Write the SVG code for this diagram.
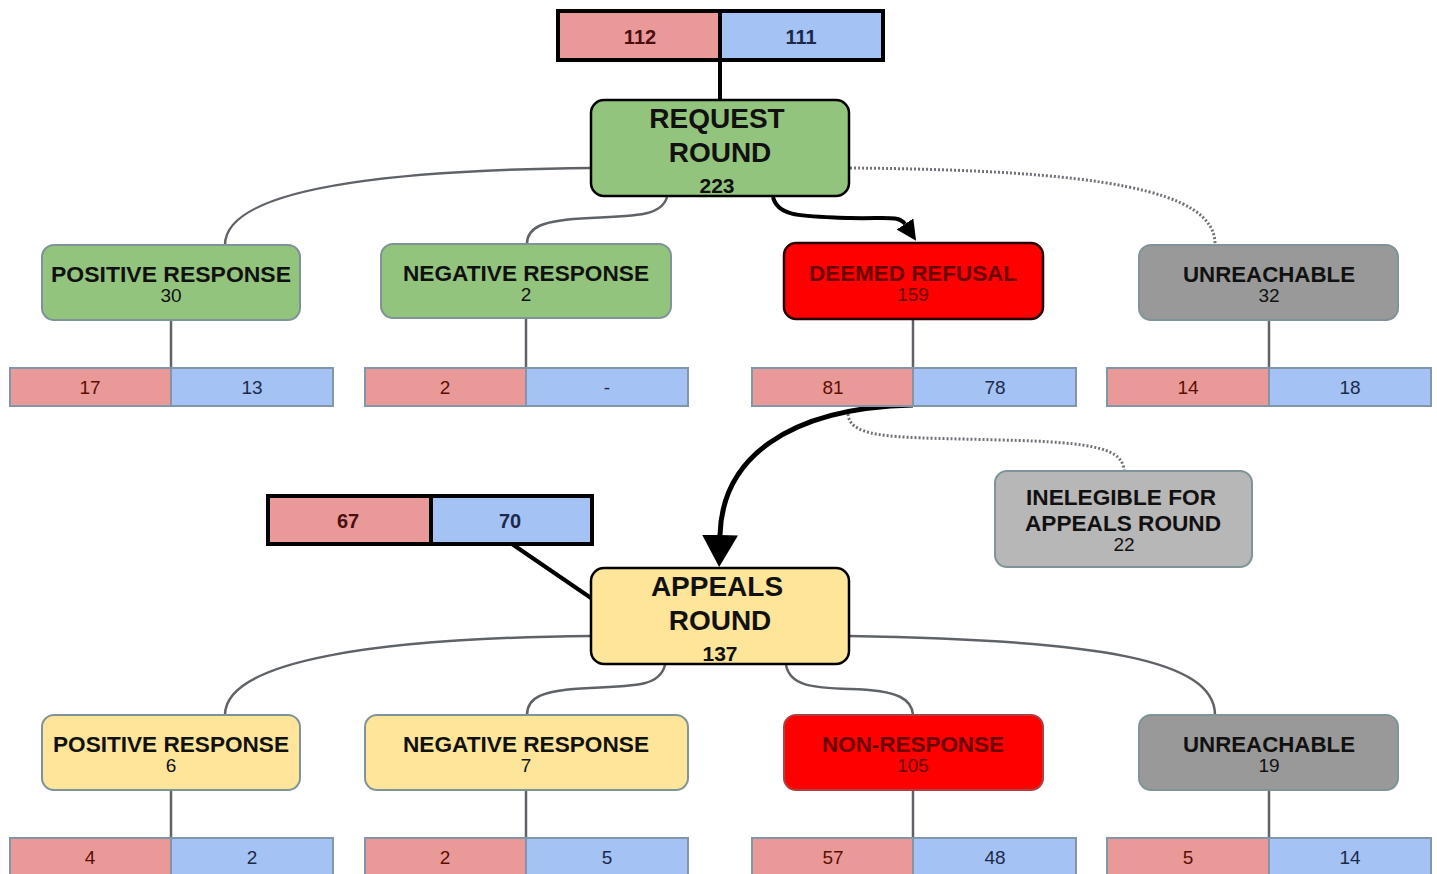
<svg xmlns="http://www.w3.org/2000/svg" width="1437" height="874" viewBox="0 0 1437 874">
<defs>
<style>
.t{font-family:"Liberation Sans",Arial,sans-serif;text-anchor:middle}
.big{font-size:28px;font-weight:bold;fill:#111}
.bnum{font-size:21px;font-weight:bold;fill:#111}
.ttl{font-size:22px;font-weight:bold;fill:#111}
.num{font-size:19px;fill:#111}
.red .ttl,.red .num{fill:#6b0000}
.pk{fill:#ea9999}
.bl{fill:#a4c2f4}
.bar{fill:none;stroke:#8196a8;stroke-width:2}
.barb{fill:none;stroke:#000;stroke-width:4}
.vp{font-size:19px;fill:#5b0f00}
.vb{font-size:19px;fill:#1c2a4a}
.vpb{font-size:20px;font-weight:bold;fill:#4a1010}
.vbb{font-size:20px;font-weight:bold;fill:#1c2a4a}
.nd{stroke:#7f9499;stroke-width:2}
.main{stroke:#000;stroke-width:2.5}
.green{fill:#93c47d}
.yellow{fill:#ffe599}
.gray{fill:#999999}
.lgray{fill:#b7b7b7}
.rfill{fill:#ff0000}
.c{fill:none;stroke:#5f6368;stroke-width:2.5}
.dot{fill:none;stroke:#6f7378;stroke-width:3;stroke-dasharray:2 2}
.thick{fill:none;stroke:#000;stroke-width:4}
</style>
<marker id="ahS" viewBox="0 -10 20 20" refX="0" refY="0" markerWidth="20" markerHeight="20" markerUnits="userSpaceOnUse" orient="auto"><path d="M0,-10 L20,0 L0,10 z" fill="#000"/></marker>
<marker id="ahB" viewBox="0 -18 32 36" refX="0" refY="0" markerWidth="32" markerHeight="36" markerUnits="userSpaceOnUse" orient="auto"><path d="M0,-18 L32,0 L0,18 z" fill="#000"/></marker>
</defs>
<rect width="1437" height="874" fill="#fff"/>

<g id="connectors">
<line x1="720" y1="60" x2="720" y2="100" class="thick"/>
<path class="c" d="M591,168 C 380,170 225,190 225,245"/>
<path class="c" d="M667,197 C 662,215 640,216 590,218 C 540,220 527,228 527,244"/>
<path class="thick" d="M773,197 C 778,218 805,216 850,218 C 885,219 899,215 905,224" marker-end="url(#ahS)"/>
<path class="dot" d="M850,168 C 1100,170 1215,190 1215,244"/>
<line x1="171" y1="320" x2="171" y2="368" class="c"/>
<line x1="526" y1="318" x2="526" y2="368" class="c"/>
<line x1="913" y1="319" x2="913" y2="368" class="c"/>
<line x1="1269" y1="320" x2="1269" y2="368" class="c"/>
<path class="thick" style="stroke-width:5" d="M913,405 C 785,408 722,460 720,535" marker-end="url(#ahB)"/>
<path class="dot" d="M848,414 C 850,440 900,437 1000,440 C 1100,442 1122,450 1124,470"/>
<line x1="512" y1="544" x2="591" y2="598" class="thick"/>
<path class="c" d="M591,636 C 380,638 225,660 225,715"/>
<path class="c" d="M665,665 C 660,685 640,686 590,688 C 540,690 527,698 527,715"/>
<path class="c" d="M786,665 C 790,685 810,688 850,689 C 900,690 912,700 913,715"/>
<path class="c" d="M849,636 C 1100,640 1215,660 1215,715"/>
<line x1="171" y1="790" x2="171" y2="838" class="c"/>
<line x1="526" y1="790" x2="526" y2="838" class="c"/>
<line x1="913" y1="790" x2="913" y2="838" class="c"/>
<line x1="1269" y1="790" x2="1269" y2="838" class="c"/>
</g>

<g id="bar-top">
<rect x="558" y="11" width="162" height="49" class="pk"/>
<rect x="720" y="11" width="163" height="49" class="bl"/>
<rect x="558" y="11" width="325" height="49" class="barb"/>
<line x1="720" y1="11" x2="720" y2="60" stroke="#000" stroke-width="4"/>
<text x="640" y="44" class="t vpb">112</text>
<text x="801" y="44" class="t vbb">111</text>
</g>

<g id="request-round">
<rect x="591" y="100" width="258" height="96" rx="13" class="green main"/>
<text x="717" y="128" class="t big">REQUEST</text>
<text x="720" y="162" class="t big">ROUND</text>
<text x="717" y="193" class="t bnum">223</text>
</g>

<g id="r-positive">
<rect x="42" y="245" width="258" height="75" rx="12" class="green nd"/>
<text x="171" y="282" class="t ttl" textLength="240" lengthAdjust="spacingAndGlyphs">POSITIVE  RESPONSE</text>
<text x="171" y="302" class="t num">30</text>
</g>
<g id="r-negative">
<rect x="381" y="244" width="290" height="74" rx="12" class="green nd"/>
<text x="526" y="281" class="t ttl" textLength="246" lengthAdjust="spacingAndGlyphs">NEGATIVE RESPONSE</text>
<text x="526" y="301" class="t num">2</text>
</g>
<g id="r-deemed" class="red">
<rect x="784" y="243" width="259" height="76" rx="12" class="rfill" stroke="#2a0000" stroke-width="2.5"/>
<text x="913" y="281" class="t ttl" textLength="208" lengthAdjust="spacingAndGlyphs">DEEMED REFUSAL</text>
<text x="913" y="301" class="t num">159</text>
</g>
<g id="r-unreachable">
<rect x="1139" y="245" width="259" height="75" rx="12" class="gray nd"/>
<text x="1269" y="282" class="t ttl" textLength="172" lengthAdjust="spacingAndGlyphs">UNREACHABLE</text>
<text x="1269" y="302" class="t num">32</text>
</g>

<g id="bar-r-positive">
<rect x="10" y="368" width="161" height="38" class="pk"/>
<rect x="171" y="368" width="162" height="38" class="bl"/>
<rect x="10" y="368" width="323" height="38" class="bar"/>
<line x1="171" y1="368" x2="171" y2="406" stroke="#8196a8" stroke-width="2"/>
<text x="90" y="394" class="t vp">17</text>
<text x="252" y="394" class="t vb">13</text>
</g>
<g id="bar-r-negative">
<rect x="365" y="368" width="161" height="38" class="pk"/>
<rect x="526" y="368" width="162" height="38" class="bl"/>
<rect x="365" y="368" width="323" height="38" class="bar"/>
<line x1="526" y1="368" x2="526" y2="406" stroke="#8196a8" stroke-width="2"/>
<text x="445" y="394" class="t vp">2</text>
<text x="607" y="394" class="t vb">-</text>
</g>
<g id="bar-r-deemed">
<rect x="752" y="368" width="161" height="38" class="pk"/>
<rect x="913" y="368" width="163" height="38" class="bl"/>
<rect x="752" y="368" width="324" height="38" class="bar"/>
<line x1="913" y1="368" x2="913" y2="406" stroke="#8196a8" stroke-width="2"/>
<text x="833" y="394" class="t vp">81</text>
<text x="995" y="394" class="t vb">78</text>
</g>
<g id="bar-r-unreachable">
<rect x="1107" y="368" width="162" height="38" class="pk"/>
<rect x="1269" y="368" width="162" height="38" class="bl"/>
<rect x="1107" y="368" width="324" height="38" class="bar"/>
<line x1="1269" y1="368" x2="1269" y2="406" stroke="#8196a8" stroke-width="2"/>
<text x="1188" y="394" class="t vp">14</text>
<text x="1350" y="394" class="t vb">18</text>
</g>

<g id="inelegible">
<rect x="995" y="471" width="257" height="96" rx="12" class="lgray nd"/>
<text x="1121" y="505" class="t ttl" textLength="190" lengthAdjust="spacingAndGlyphs">INELEGIBLE FOR</text>
<text x="1123" y="531" class="t ttl" textLength="196" lengthAdjust="spacingAndGlyphs">APPEALS ROUND</text>
<text x="1124" y="551" class="t num">22</text>
</g>

<g id="bar-appeals">
<rect x="268" y="496" width="163" height="48" class="pk"/>
<rect x="431" y="496" width="161" height="48" class="bl"/>
<rect x="268" y="496" width="324" height="48" class="barb"/>
<line x1="431" y1="496" x2="431" y2="544" stroke="#000" stroke-width="4"/>
<text x="348" y="528" class="t vpb">67</text>
<text x="510" y="528" class="t vbb">70</text>
</g>

<g id="appeals-round">
<rect x="591" y="568" width="258" height="96" rx="13" class="yellow main"/>
<text x="717" y="596" class="t big">APPEALS</text>
<text x="720" y="630" class="t big">ROUND</text>
<text x="720" y="661" class="t bnum">137</text>
</g>

<g id="a-positive">
<rect x="42" y="715" width="258" height="75" rx="12" class="yellow nd"/>
<text x="171" y="752" class="t ttl" textLength="236" lengthAdjust="spacingAndGlyphs">POSITIVE RESPONSE</text>
<text x="171" y="772" class="t num">6</text>
</g>
<g id="a-negative">
<rect x="365" y="715" width="323" height="75" rx="12" class="yellow nd"/>
<text x="526" y="752" class="t ttl" textLength="246" lengthAdjust="spacingAndGlyphs">NEGATIVE RESPONSE</text>
<text x="526" y="772" class="t num">7</text>
</g>
<g id="a-nonresponse" class="red">
<rect x="784" y="715" width="259" height="75" rx="12" class="rfill" stroke="#b04040" stroke-width="2"/>
<text x="913" y="752" class="t ttl" textLength="182" lengthAdjust="spacingAndGlyphs">NON-RESPONSE</text>
<text x="913" y="772" class="t num">105</text>
</g>
<g id="a-unreachable">
<rect x="1139" y="715" width="259" height="75" rx="12" class="gray nd"/>
<text x="1269" y="752" class="t ttl" textLength="172" lengthAdjust="spacingAndGlyphs">UNREACHABLE</text>
<text x="1269" y="772" class="t num">19</text>
</g>

<g id="bar-a-positive">
<rect x="10" y="838" width="161" height="38" class="pk"/>
<rect x="171" y="838" width="162" height="38" class="bl"/>
<rect x="10" y="838" width="323" height="38" class="bar"/>
<line x1="171" y1="838" x2="171" y2="876" stroke="#8196a8" stroke-width="2"/>
<text x="90" y="864" class="t vp">4</text>
<text x="252" y="864" class="t vb">2</text>
</g>
<g id="bar-a-negative">
<rect x="365" y="838" width="161" height="38" class="pk"/>
<rect x="526" y="838" width="162" height="38" class="bl"/>
<rect x="365" y="838" width="323" height="38" class="bar"/>
<line x1="526" y1="838" x2="526" y2="876" stroke="#8196a8" stroke-width="2"/>
<text x="445" y="864" class="t vp">2</text>
<text x="607" y="864" class="t vb">5</text>
</g>
<g id="bar-a-nonresponse">
<rect x="752" y="838" width="161" height="38" class="pk"/>
<rect x="913" y="838" width="163" height="38" class="bl"/>
<rect x="752" y="838" width="324" height="38" class="bar"/>
<line x1="913" y1="838" x2="913" y2="876" stroke="#8196a8" stroke-width="2"/>
<text x="833" y="864" class="t vp">57</text>
<text x="995" y="864" class="t vb">48</text>
</g>
<g id="bar-a-unreachable">
<rect x="1107" y="838" width="162" height="38" class="pk"/>
<rect x="1269" y="838" width="162" height="38" class="bl"/>
<rect x="1107" y="838" width="324" height="38" class="bar"/>
<line x1="1269" y1="838" x2="1269" y2="876" stroke="#8196a8" stroke-width="2"/>
<text x="1188" y="864" class="t vp">5</text>
<text x="1350" y="864" class="t vb">14</text>
</g>
</svg>
